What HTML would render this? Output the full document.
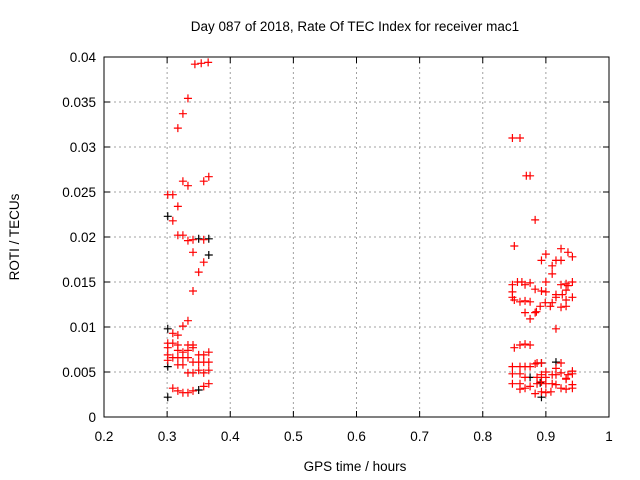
<!DOCTYPE html>
<html><head><meta charset="utf-8"><style>
body{margin:0;background:#fff}
svg{display:block;font-family:"Liberation Sans",Arial,sans-serif}
</style></head><body>
<svg id="chart" width="640" height="480" xmlns="http://www.w3.org/2000/svg">
<rect width="640" height="480" fill="#fff"/>
<text x="355" y="31" text-anchor="middle" font-size="13.5">Day 087 of 2018, Rate Of TEC Index for receiver mac1</text>
<text transform="translate(19,237) rotate(-90)" text-anchor="middle" font-size="13.5">ROTI / TECUs</text>
<text x="355" y="471" text-anchor="middle" font-size="13.5">GPS time / hours</text>
<g id="grid"></g>
<g id="ticks"></g>
<g id="marks"></g>
<rect x="104" y="57" width="505" height="360" fill="none" stroke="#000" stroke-width="1"/>
</svg>
<script>
const xTicks=[0.2,0.3,0.4,0.5,0.6,0.7,0.8,0.9,1];
const xTickLabels=["0.2","0.3","0.4","0.5","0.6","0.7","0.8","0.9","1"];
const yTicks=[0,0.005,0.01,0.015,0.02,0.025,0.03,0.035,0.04];
const yTickLabels=["0","0.005","0.01","0.015","0.02","0.025","0.03","0.035","0.04"];
const redX=[0.344,0.354,0.365,0.333,0.325,0.317,0.325,0.333,0.358,0.366,0.301,0.309,0.317,0.309,0.317,0.325,0.333,0.341,0.358,0.341,0.358,0.350,0.341,
0.301,0.301,0.309,0.317,0.325,0.333,0.309,0.317,0.325,0.333,0.341,0.350,0.358,0.366,0.301,0.301,0.309,0.317,0.325,0.333,0.341,0.350,0.358,0.366,0.317,0.333,0.341,0.350,0.358,0.366,0.317,0.333,0.341,0.325,
0.309,0.317,0.325,0.333,0.341,0.358,0.366,
0.847,0.859,0.869,0.875,0.883,0.850,0.924,0.935,0.900,0.942,0.893,0.916,0.924,0.910,0.910,0.855,0.862,0.867,0.875,0.900,0.932,0.942,0.924,0.935,0.883,0.893,0.900,0.916,0.926,0.932,0.942,0.847,0.847,0.847,0.859,0.867,0.875,0.850,0.891,0.899,0.924,0.932,0.932,0.910,0.916,0.867,0.883,0.907,0.875,0.885,0.916,
0.850,0.859,0.867,0.875,0.886,0.893,0.924,0.942,0.847,0.859,0.867,0.875,0.883,0.847,0.859,0.867,0.886,0.893,0.900,0.910,0.916,0.932,0.942,0.900,0.916,0.924,0.935,0.847,0.859,0.867,0.875,0.886,0.893,0.900,0.910,0.916,0.924,0.932,0.942,0.942,0.883,0.900,0.908,0.932,0.893,0.859];
const redY=[0.0392,0.0393,0.0394,0.0354,0.0337,0.0321,0.0262,0.0257,0.0262,0.0267,0.0247,0.0247,0.0234,0.0218,0.0202,0.0202,0.0196,0.0197,0.0197,0.0183,0.0172,0.0161,0.0140,
0.0082,0.0077,0.0093,0.0091,0.0101,0.0107,0.0082,0.0074,0.0072,0.0074,0.0077,0.0069,0.0069,0.0072,0.0069,0.0063,0.0066,0.0066,0.0066,0.0066,0.0061,0.0061,0.0061,0.0061,0.0058,0.0049,0.0049,0.0052,0.0049,0.0052,0.0080,0.0080,0.0080,0.0058,
0.0032,0.0029,0.0027,0.0027,0.0029,0.0034,0.0037,
0.0310,0.0310,0.0268,0.0268,0.0219,0.0190,0.0187,0.0183,0.0181,0.0178,0.0174,0.0174,0.0174,0.0168,0.0159,0.0150,0.0150,0.0147,0.0149,0.0150,0.0148,0.0150,0.0147,0.0146,0.0142,0.0140,0.0139,0.0136,0.0136,0.0141,0.0133,0.0147,0.0139,0.0133,0.0128,0.0129,0.0128,0.0130,0.0123,0.0127,0.0122,0.0123,0.0130,0.0127,0.0133,0.0116,0.0116,0.0123,0.0109,0.0117,0.0098,
0.0077,0.0080,0.0081,0.0080,0.0060,0.0060,0.0060,0.0051,0.0056,0.0056,0.0056,0.0056,0.0059,0.0048,0.0048,0.0044,0.0044,0.0047,0.0044,0.0047,0.0047,0.0043,0.0048,0.0050,0.0054,0.0049,0.0047,0.0037,0.0037,0.0032,0.0034,0.0037,0.0039,0.0037,0.0037,0.0036,0.0032,0.0031,0.0036,0.0032,0.0026,0.0027,0.0028,0.0042,0.0028,0.0031];
const blackX=[0.301,0.350,0.366,0.366,0.301,0.301,0.350,0.301,0.875,0.893,0.893,0.916,0.891];
const blackY=[0.0223,0.0198,0.0198,0.0180,0.0098,0.0056,0.0030,0.0022,0.0044,0.0060,0.0022,0.0061,0.0038];
const X0=104,X1=609,Y0=417,Y1=57;
const xs=v=>X0+(v-0.2)/0.8*(X1-X0);
const ys=v=>Y0-(v/0.04)*(Y0-Y1);
const NS="http://www.w3.org/2000/svg";
const mk=(t,a,p)=>{const e=document.createElementNS(NS,t);for(const k in a)e.setAttribute(k,a[k]);p.appendChild(e);return e;};
const grid=document.getElementById('grid'),ticks=document.getElementById('ticks'),marks=document.getElementById('marks');
xTicks.forEach((v,i)=>{const x=xs(v);
 if(i>0&&i<xTicks.length-1){const g=mk('line',{x1:x,x2:x,y1:Y1,y2:Y0,stroke:'#a0a0a0','stroke-dasharray':'2,3'},grid);
 
 }
 mk('line',{x1:x,x2:x,y1:Y0,y2:Y0-6,stroke:'#000'},ticks);
 mk('line',{x1:x,x2:x,y1:Y1,y2:Y1+6,stroke:'#000'},ticks);
 const t=mk('text',{x:x,y:441,'text-anchor':'middle','font-size':'13.5'},ticks);t.textContent=xTickLabels[i];
 
 
});
yTicks.forEach((v,i)=>{const y=ys(v);
 if(i>0&&i<yTicks.length-1){const g=mk('line',{x1:X0,x2:X1,y1:y,y2:y,stroke:'#a0a0a0','stroke-dasharray':'2,3'},grid);
 
 }
 mk('line',{x1:X0,x2:X0+6,y1:y,y2:y,stroke:'#000'},ticks);
 mk('line',{x1:X1,x2:X1-6,y1:y,y2:y,stroke:'#000'},ticks);
 const t=mk('text',{x:96,y:y+5,'text-anchor':'end','font-size':'13.5'},ticks);t.textContent=yTickLabels[i];
 
 
});
function plus(x,y,c,name){const g=mk('path',{d:`M${x-4},${y}H${x+4}M${x},${y-4}V${y+4}`,stroke:c,'stroke-width':'1.2',fill:'none'},marks);
 
 }
blackX.forEach((v,i)=>plus(xs(v),ys(blackY[i]),'#000','black-point'));
redX.forEach((v,i)=>plus(xs(v),ys(redY[i]),'#ff0000','red-point'));
</script>
</body></html>
